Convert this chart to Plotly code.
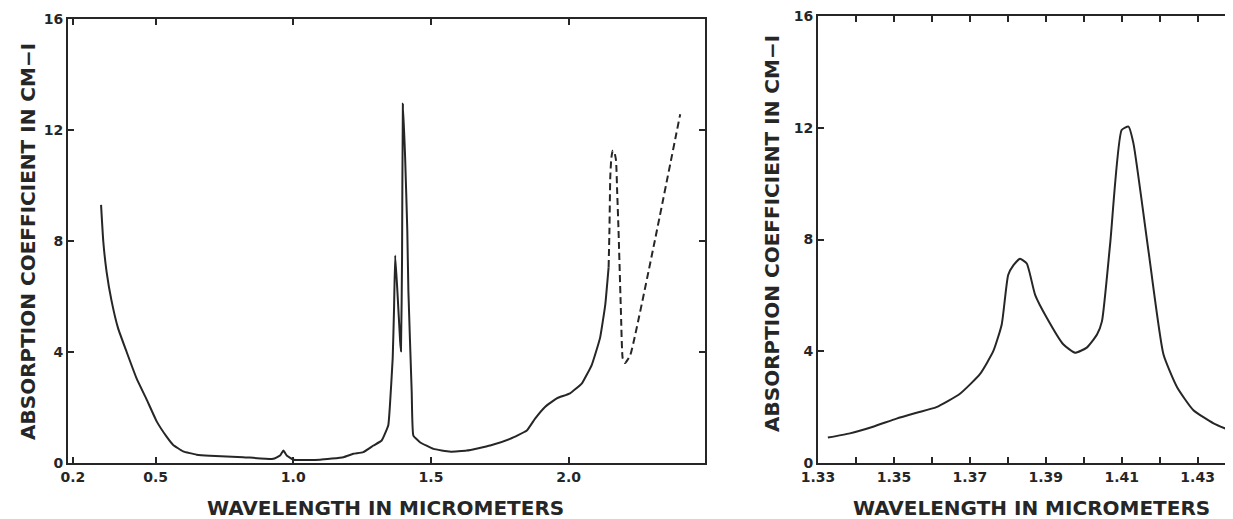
import plotly.graph_objects as go

# ---------------- data ----------------
left_wl = [0.302, 0.310, 0.322, 0.340, 0.364, 0.395, 0.431, 0.467, 0.504, 0.540,
           0.564, 0.600, 0.649, 0.697, 0.818,
           0.927, 0.952, 0.964, 0.976, 1.000, 1.097, 1.182, 1.218, 1.254, 1.291,
           1.321, 1.345, 1.351, 1.361, 1.366, 1.370, 1.378, 1.388, 1.391, 1.395,
           1.398, 1.406, 1.414, 1.418, 1.430, 1.436, 1.460, 1.509, 1.569, 1.630,
           1.715, 1.787, 1.848, 1.878, 1.915, 1.957, 2.005, 2.048, 2.084, 2.114,
           2.133, 2.145]
left_abs = [9.30, 8.00, 6.90, 5.85, 4.85, 4.00, 3.05, 2.30, 1.50, 0.95,
            0.65, 0.42, 0.30, 0.26, 0.21,
            0.15, 0.27, 0.45, 0.27, 0.12, 0.12, 0.21, 0.33, 0.39, 0.63,
            0.81, 1.36, 2.08, 3.78, 5.60, 7.48, 6.20, 4.39, 4.03, 7.42,
            12.95, 11.05, 8.39, 6.20, 2.57, 0.99, 0.75, 0.51, 0.41, 0.45,
            0.63, 0.87, 1.17, 1.60, 2.03, 2.33, 2.51, 2.87, 3.54, 4.51,
            5.72, 7.05]

dash_wl = [2.145, 2.148, 2.151, 2.155, 2.160, 2.166, 2.172, 2.176, 2.181, 2.190,
           2.196, 2.205, 2.224, 2.308, 2.405]
dash_abs = [7.05, 8.39, 10.30, 11.00, 11.25, 11.20, 10.90, 9.80, 8.39, 5.36,
            3.78, 3.60, 3.90, 7.78, 12.57]

right_wl = [1.3326, 1.3384, 1.3445, 1.3507, 1.3560, 1.3612, 1.3674, 1.3727, 1.3762,
            1.3784, 1.3801, 1.3815, 1.3832, 1.3850, 1.3872, 1.3903, 1.3946, 1.3977,
            1.4008, 1.4035, 1.4048, 1.4070, 1.4100, 1.4118, 1.4131, 1.4171, 1.4210,
            1.4246, 1.4289, 1.4342, 1.4382]
right_abs = [0.91, 1.06, 1.30, 1.59, 1.80, 2.00, 2.48, 3.19, 4.01,
             4.96, 6.73, 7.08, 7.31, 7.14, 6.02, 5.19, 4.25, 3.95,
             4.13, 4.60, 5.07, 7.90, 11.92, 12.04, 11.44, 7.55, 3.89,
             2.71, 1.89, 1.42, 1.18]

left_xticks = [0.2, 0.5, 1.0, 1.5, 2.0, 2.5]
left_xticklabels = ["0.2", "0.5", "1.0", "1.5", "2.0", "2.5"]
y_ticks = [0, 4, 8, 12, 16]
y_ticklabels = ["0", "4", "8", "12", "16"]
right_xticks = [1.33, 1.34, 1.35, 1.36, 1.37, 1.38, 1.39, 1.40, 1.41, 1.42, 1.43]
right_xticklabels = ["1.33", "", "1.35", "", "1.37", "", "1.39", "", "1.41", "", "1.43"]

x_title = "WAVELENGTH IN MICROMETERS"
y_title = "ABSORPTION COEFFICIENT IN CM\u2212I"

# ---------------- figure ----------------
# the page body has an 8px margin, so the figure is drawn 8px in from the top-left
OFF = 8
W, H = 1233 - OFF, 519 - OFF
INK = "#262626"
FONT = "DejaVu Sans"


def fx(p):
    return (p - OFF) / W


def fy(p):
    return 1 - (p - OFF) / H


fig = go.Figure()
fig.add_trace(go.Scatter(x=left_wl, y=left_abs, mode="lines", line_shape="spline",
                         line=dict(color=INK, width=2, smoothing=0.35),
                         xaxis="x", yaxis="y", showlegend=False, hoverinfo="skip"))
fig.add_trace(go.Scatter(x=dash_wl, y=dash_abs, mode="lines", line_shape="spline",
                         line=dict(color=INK, width=2, dash="7px,4px", smoothing=0.4),
                         xaxis="x", yaxis="y", showlegend=False, hoverinfo="skip"))
fig.add_trace(go.Scatter(x=right_wl, y=right_abs, mode="lines", line_shape="spline",
                         line=dict(color=INK, width=2, smoothing=0.5),
                         xaxis="x2", yaxis="y2", showlegend=False, hoverinfo="skip"))

tickfont = dict(family=FONT, size=14, color=INK, weight="bold")
axis_common = dict(showgrid=False, zeroline=False, showline=True, linewidth=2,
                   linecolor=INK, mirror="ticks", ticks="inside", ticklen=6,
                   tickwidth=2, tickcolor=INK, tickfont=tickfont, fixedrange=True,
                   ticklabeloverflow="allow")

fig.update_layout(
    width=W, height=H,
    margin=dict(l=0, r=0, t=0, b=0, autoexpand=False),
    paper_bgcolor="white", plot_bgcolor="white",
    xaxis=dict(domain=[fx(68), fx(705)], range=[0.182, 2.495], anchor="y",
               tickmode="array", tickvals=left_xticks, ticktext=left_xticklabels,
               **axis_common),
    yaxis=dict(domain=[fy(463), fy(19)], range=[0, 16], anchor="x",
               tickmode="array", tickvals=y_ticks, ticktext=y_ticklabels,
               **axis_common),
    xaxis2=dict(domain=[fx(818), fx(1231)], range=[1.33, 1.4388], anchor="y2",
                tickmode="array", tickvals=right_xticks, ticktext=right_xticklabels,
                **axis_common),
    yaxis2=dict(domain=[fy(463), fy(16)], range=[0, 16], anchor="x2",
                tickmode="array", tickvals=y_ticks, ticktext=y_ticklabels,
                **axis_common),
)

title_font = dict(family=FONT, size=20, color=INK, weight="bold")
annotations = [
    dict(text=x_title, x=fx(385), y=fy(508), xref="paper", yref="paper",
         xanchor="center", yanchor="middle", showarrow=False, font=title_font),
    dict(text=x_title, x=fx(1031), y=fy(508), xref="paper", yref="paper",
         xanchor="center", yanchor="middle", showarrow=False, font=title_font),
    dict(text=y_title, x=fx(28), y=fy(242), xref="paper", yref="paper",
         xanchor="center", yanchor="middle", textangle=-90, showarrow=False,
         font=title_font),
    dict(text=y_title, x=fx(772), y=fy(234), xref="paper", yref="paper",
         xanchor="center", yanchor="middle", textangle=-90, showarrow=False,
         font=title_font),
]
fig.update_layout(annotations=annotations)

fig.write_html("out.html")
